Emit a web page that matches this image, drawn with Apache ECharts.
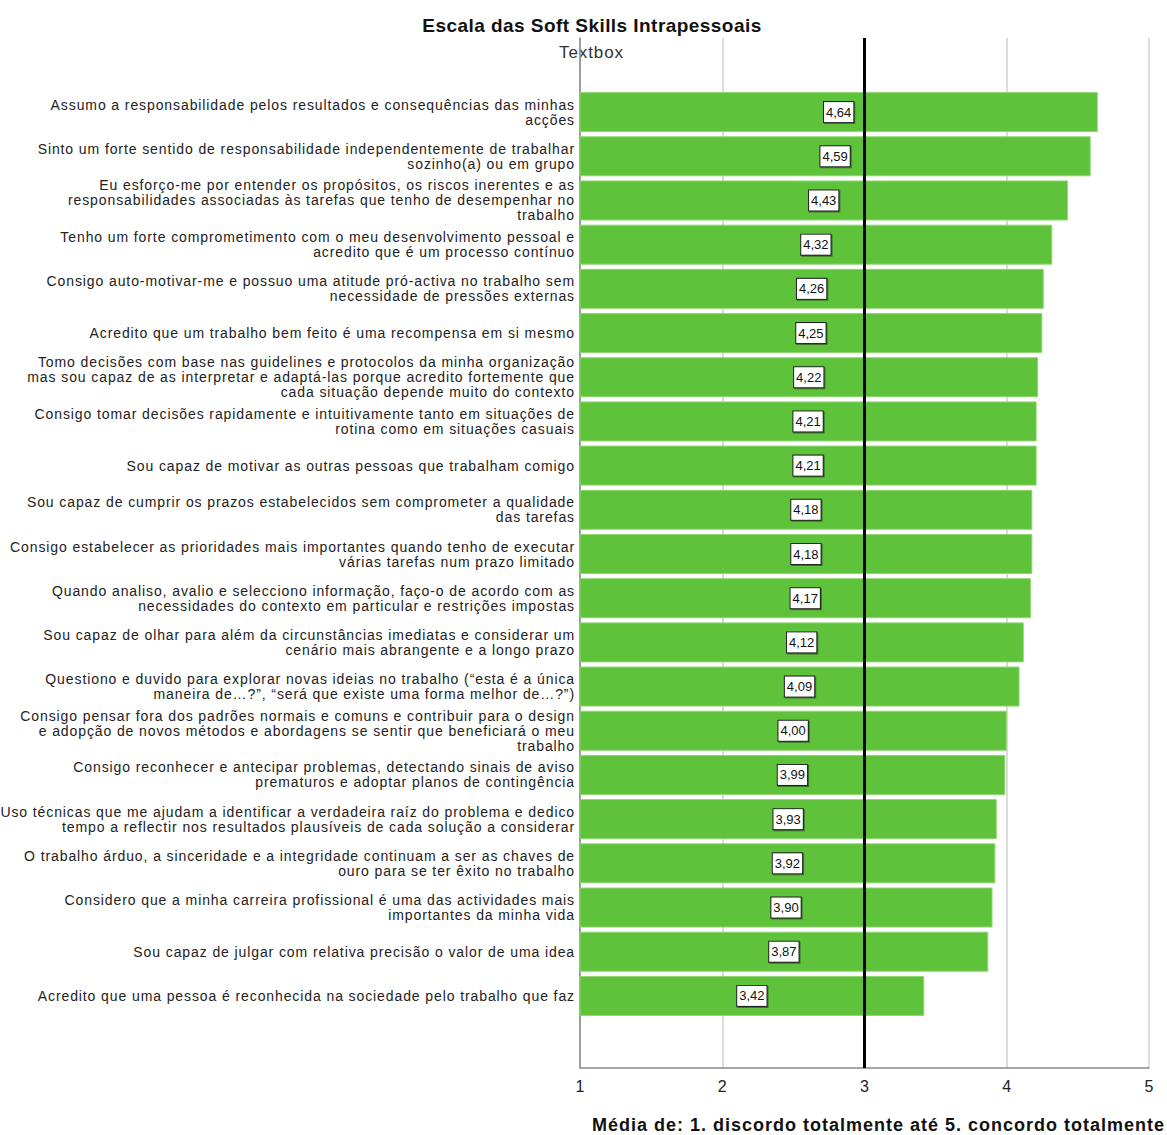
<!DOCTYPE html>
<html><head><meta charset="utf-8">
<script src="https://cdn.jsdelivr.net/npm/echarts@6/dist/echarts.min.js"></script>
<style>html,body{margin:0;padding:0;background:#fff}#c{width:1167px;height:1135px}
#c svg text{letter-spacing:0.9px}
#c svg text[style*="13px"]{letter-spacing:0}
#c svg text[style*="19px"]{letter-spacing:0.45px}
#c svg text[style*="18px"]{letter-spacing:1px}
#c svg text[style*="16px"]{letter-spacing:0}</style>
</head><body><div id="c"></div>
<script>
const categories = [
"Assumo a responsabilidade pelos resultados e consequências das minhas\nacções",
"Sinto um forte sentido de responsabilidade independentemente de trabalhar\nsozinho(a) ou em grupo",
"Eu esforço-me por entender os propósitos, os riscos inerentes e as\nresponsabilidades associadas às tarefas que tenho de desempenhar no\ntrabalho",
"Tenho um forte comprometimento com o meu desenvolvimento pessoal e\nacredito que é um processo contínuo",
"Consigo auto-motivar-me e possuo uma atitude pró-activa no trabalho sem\nnecessidade de pressões externas",
"Acredito que um trabalho bem feito é uma recompensa em si mesmo",
"Tomo decisões com base nas guidelines e protocolos da minha organização\nmas sou capaz de as interpretar e adaptá-las porque acredito fortemente que\ncada situação depende muito do contexto",
"Consigo tomar decisões rapidamente e intuitivamente tanto em situações de\nrotina como em situações casuais",
"Sou capaz de motivar as outras pessoas que trabalham comigo",
"Sou capaz de cumprir os prazos estabelecidos sem comprometer a qualidade\ndas tarefas",
"Consigo estabelecer as prioridades mais importantes quando tenho de executar\nvárias tarefas num prazo limitado",
"Quando analiso, avalio e selecciono informação, faço-o de acordo com as\nnecessidades do contexto em particular e restrições impostas",
"Sou capaz de olhar para além da circunstâncias imediatas e considerar um\ncenário mais abrangente e a longo prazo",
"Questiono e duvido para explorar novas ideias no trabalho (“esta é a única\nmaneira de…?”, “será que existe uma forma melhor de…?”)",
"Consigo pensar fora dos padrões normais e comuns e contribuir para o design\ne adopção de novos métodos e abordagens se sentir que beneficiará o meu\ntrabalho",
"Consigo reconhecer e antecipar problemas, detectando sinais de aviso\nprematuros e adoptar planos de contingência",
"Uso técnicas que me ajudam a identificar a verdadeira raíz do problema e dedico\ntempo a reflectir nos resultados plausíveis de cada solução a considerar",
"O trabalho árduo, a sinceridade e a integridade continuam a ser as chaves de\nouro para se ter êxito no trabalho",
"Considero que a minha carreira profissional é uma das actividades mais\nimportantes da minha vida",
"Sou capaz de julgar com relativa precisão o valor de uma idea",
"Acredito que uma pessoa é reconhecida na sociedade pelo trabalho que faz"
];
const meanValues = [4.64, 4.59, 4.43, 4.32, 4.26, 4.25, 4.22, 4.21, 4.21, 4.18, 4.18, 4.17, 4.12, 4.09, 4.00, 3.99, 3.93, 3.92, 3.90, 3.87, 3.42];
const xTicks = [1, 2, 3, 4, 5];
const referenceValue = 3;
const titleText = "Escala das Soft Skills Intrapessoais";
const xAxisTitle = "Média de: 1. discordo totalmente até 5. concordo totalmente";

const chart = echarts.init(document.getElementById('c'), null, {renderer: 'svg'});
const FONT = '"Liberation Sans", Arial, sans-serif';
chart.setOption({
  animation: false,
  backgroundColor: '#ffffff',
  textStyle: {fontFamily: FONT},
  graphic: [
    {type: 'text', x: 592, y: 16, style: {text: titleText, font: 'bold 19px ' + FONT, fill: '#111', textAlign: 'center', textVerticalAlign: 'top'}},
    {type: 'text', x: 559, y: 44, style: {text: 'Textbox', font: '17px ' + FONT, fill: '#333', textAlign: 'left', textVerticalAlign: 'top'}},
    {type: 'text', x: 1165, y: 1116, style: {text: xAxisTitle, font: 'bold 18px ' + FONT, fill: '#111', textAlign: 'right', textVerticalAlign: 'top'}}
  ],
  grid: [
    {left: 580, right: 18, top: 38, bottom: 67, containLabel: false},
    {left: 580, right: 18, top: 90, bottom: 117, containLabel: false}
  ],
  xAxis: [
    {gridIndex: 0, type: 'value', min: xTicks[0], max: xTicks[xTicks.length - 1], interval: 1,
     axisLine: {show: true, lineStyle: {color: '#888', width: 1.5}},
     axisTick: {show: false},
     axisLabel: {color: '#222', fontSize: 16, margin: 10, fontFamily: FONT},
     splitLine: {show: true, lineStyle: {color: '#cfcfcf', width: 1.5}}},
    {gridIndex: 1, type: 'value', min: xTicks[0], max: xTicks[xTicks.length - 1], interval: 1, show: false,
     splitLine: {show: false}}
  ],
  yAxis: [
    {gridIndex: 0, type: 'value', min: 0, max: 1, show: true,
     axisLine: {show: true, lineStyle: {color: '#888', width: 1.5}},
     axisTick: {show: false}, axisLabel: {show: false}, splitLine: {show: false}},
    {gridIndex: 1, type: 'category', inverse: true, data: categories,
     axisLine: {show: false}, axisTick: {show: false},
     axisLabel: {color: '#222', fontSize: 14, lineHeight: 15, margin: 5, align: 'right', fontFamily: FONT, padding: [4, 0, 0, 0]}}
  ],
  series: [
    {type: 'bar', xAxisIndex: 1, yAxisIndex: 1, data: meanValues, barWidth: 40,
     itemStyle: {color: '#5ec23a', borderColor: '#8fd672', borderWidth: 1},
     label: {show: true, position: 'inside', color: '#111', fontSize: 13, fontFamily: FONT,
       backgroundColor: '#fff', borderColor: '#222', borderWidth: 1, padding: [4, 2, 3, 2],
       shadowColor: 'rgba(0,0,0,0.4)', shadowOffsetX: 1, shadowOffsetY: 1, shadowBlur: 1,
       formatter: p => p.value.toFixed(2).replace('.', ',')},
     z: 2},
    {type: 'line', xAxisIndex: 0, yAxisIndex: 0, data: [], z: 5,
     markLine: {silent: true, symbol: 'none', label: {show: false},
       lineStyle: {color: '#000', width: 3, type: 'solid'},
       data: [{xAxis: referenceValue}]}}
  ]
});
</script></body></html>
